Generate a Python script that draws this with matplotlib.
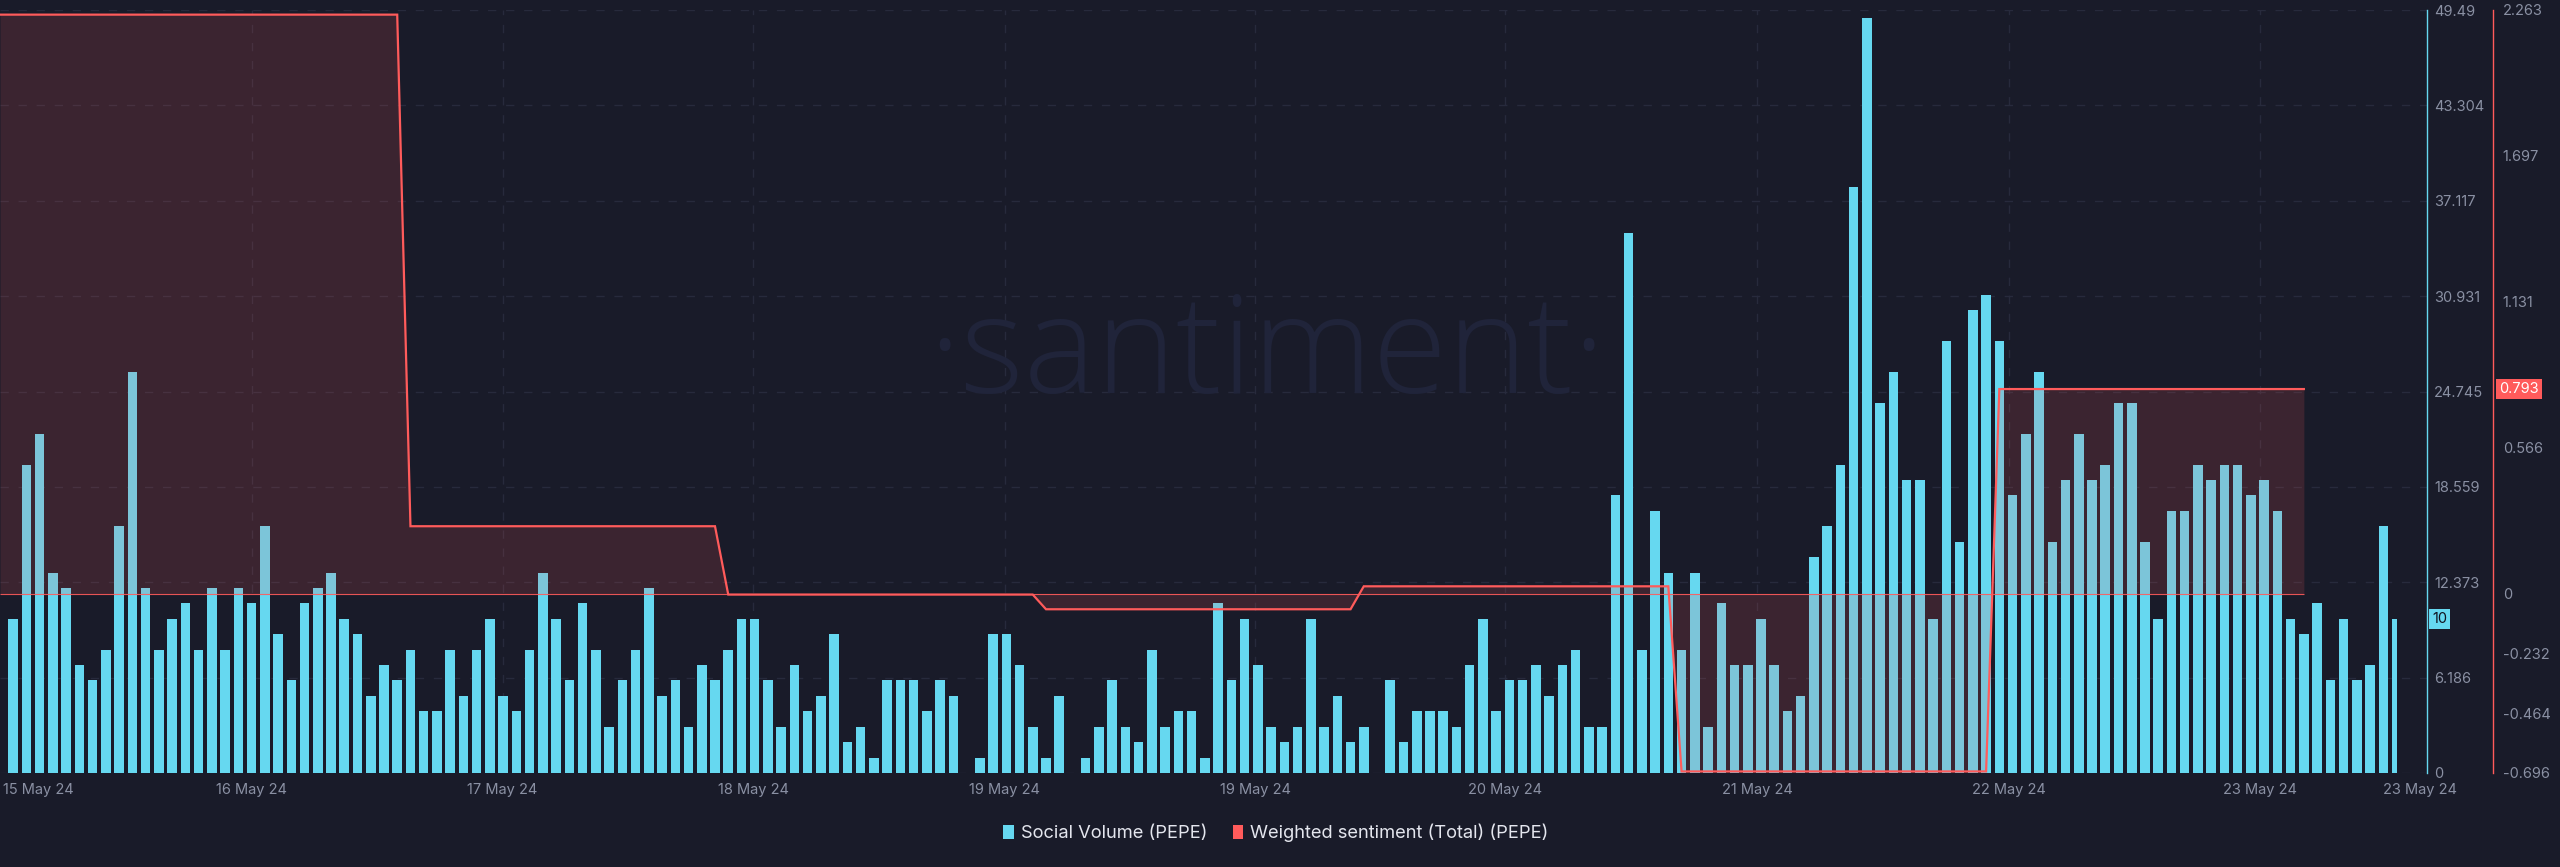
import numpy as np
import matplotlib
matplotlib.use("Agg")
import matplotlib.pyplot as plt
from matplotlib.patches import Patch

# ---------------- data ----------------
social_volume = [
    10, 20, 22, 13, 12, 7, 6, 8, 16, 26, 12, 8, 10, 11, 8, 12, 8, 12, 11, 16, 9, 6, 11, 12, 13, 10, 9, 5, 7, 6, 8,
    4, 4, 8, 5, 8, 10, 5, 4, 8, 13, 10, 6, 11, 8, 3, 6, 8, 12, 5, 6, 3, 7, 6, 8, 10, 10, 6, 3, 7, 4,
    5, 9, 2, 3, 1, 6, 6, 6, 4, 6, 5, 0, 1, 9, 9, 7, 3, 1, 5, 0, 1, 3, 6, 3, 2, 8, 3, 4, 4, 1,
    11, 6, 10, 7, 3, 2, 3, 10, 3, 5, 2, 3, 0, 6, 2, 4, 4, 4, 3, 7, 10, 4, 6, 6, 7, 5, 7, 8, 3, 3,
    18, 35, 8, 17, 13, 8, 13, 3, 11, 7, 7, 10, 7, 4, 5, 14, 16, 20, 38, 49, 24, 26, 19, 19, 10, 28, 15, 30, 31, 28,
    18, 22, 26, 15, 19, 22, 19, 20, 24, 24, 15, 10, 17, 17, 20, 19, 20, 20, 18, 19, 17, 10, 9, 11, 6, 10, 6, 7, 16, 10,
]
# daily weighted sentiment, repeated for each hour of the day (series starts one hour before first bar)
sentiment_levels = [2.245, 0.261, -0.004, -0.061, 0.028, -0.690, 0.793]
sentiment_hours = [31, 24, 24, 24, 24, 24, 24]
sentiment_start = -1

vol_ticks = [0, 6.186, 12.373, 18.559, 24.745, 30.931, 37.117, 43.304, 49.49]
vol_tick_labels = ["0", "6.186", "12.373", "18.559", "24.745", "30.931", "37.117", "43.304", "49.49"]
sent_ticks = [-0.696, -0.464, -0.232, 0, 0.566, 1.131, 1.697, 2.263]
sent_tick_labels = ["-0.696", "-0.464", "-0.232", "0", "0.566", "1.131", "1.697", "2.263"]

date_ticks = [18.0, 36.96, 55.9, 74.9, 93.8, 112.7, 131.7, 150.7, 169.7]
date_labels = ["16 May 24", "17 May 24", "18 May 24", "19 May 24", "19 May 24",
               "20 May 24", "21 May 24", "22 May 24", "23 May 24"]
edge_ticks = [1.87, 181.8]
edge_labels = ["15 May 24", "23 May 24"]

# ---------------- style ----------------
BG = "#191b29"
CYAN = "#66d8f0"
RED = "#ff5b5b"
GRID = "#272a3c"
TICK = "#8a90a3"
FONT = "Inter"

plt.rcParams["font.family"] = [FONT, "DejaVu Sans"]

fig = plt.figure(figsize=(25.6, 8.67), dpi=100, facecolor=BG)
plot_w_px = 2427
ax = fig.add_axes([0.0, 1 - 773 / 867, plot_w_px / 2560, (773 - 10) / 867])
ax.set_facecolor(BG)

n = len(social_volume)
x = np.arange(n)
bar_w = np.full(n, 0.72)
bar_w[-1] = 0.38
ax.bar(x - 0.36, social_volume, width=bar_w, align="edge", color=CYAN, zorder=2, linewidth=0)

ax.set_xlim(-1.0, 182.3)
ax.set_ylim(0, 49.49)

# watermark
ax.text(0.522, 0.545, "·santiment·", transform=ax.transAxes, ha="center", va="center",
        fontsize=98, color="#20243a", family=["Open Sans", "DejaVu Sans"], fontweight="light", zorder=1)

# sentiment axis
ax2 = ax.twinx()

# primary axes styling (after twinx, which moves ticks to the left)
for s in ["top", "left", "bottom"]:
    ax.spines[s].set_visible(False)
ax.spines["right"].set_visible(True)
ax.spines["right"].set_color(CYAN)
ax.spines["right"].set_linewidth(1.0)
ax.yaxis.tick_right()
ax.set_yticks(vol_ticks, vol_tick_labels)
ax.tick_params(axis="y", which="both", left=False, labelleft=False, right=True, labelright=True,
               length=0, pad=5, labelsize=10.5, labelcolor=TICK)
ax.set_xticks(date_ticks, date_labels)
ax.set_xticks(edge_ticks, edge_labels, minor=True)
ax.tick_params(axis="x", which="both", length=0, pad=7, labelsize=10.5, labelcolor=TICK)
ax.grid(True, which="major", color=GRID, linestyle=(0, (6, 7)), linewidth=1.0)
ax.set_axisbelow(True)

sent = np.repeat(sentiment_levels, sentiment_hours)
xs = np.arange(sentiment_start, sentiment_start + len(sent))
ax2.set_ylim(-0.696, 2.263)
ax2.fill_between(xs, sent, 0, color=RED, alpha=0.15, linewidth=0, zorder=3)
ax2.hlines(0, xs[0], xs[-1], color=RED, linewidth=0.8, alpha=0.9, zorder=3)
ax2.plot(xs, sent, color=RED, linewidth=1.6, zorder=4, solid_joinstyle="miter")
ax2.set_xlim(-1.0, 182.3)

for s in ["top", "left", "bottom"]:
    ax2.spines[s].set_visible(False)
red_pos = 1 + 66 / plot_w_px
ax2.spines["right"].set_position(("axes", red_pos))
ax2.spines["right"].set_color(RED)
ax2.spines["right"].set_linewidth(1.0)
ax2.set_yticks(sent_ticks, sent_tick_labels)
ax2.tick_params(axis="y", length=0, pad=7, labelsize=10.5, labelcolor=TICK)

# value badges
ax.annotate(str(social_volume[-1]), xy=(1, social_volume[-1]), xycoords=("axes fraction", "data"),
            xytext=(5, 0), textcoords="offset pixels", ha="left", va="center", fontsize=10.5,
            color="#111320", bbox=dict(boxstyle="square,pad=0.2", fc=CYAN, ec="none"), zorder=10,
            annotation_clip=False)
ax2.annotate(f"{sentiment_levels[-1]:.3f}", xy=(red_pos, sentiment_levels[-1]), xycoords=("axes fraction", "data"),
             xytext=(6, 0), textcoords="offset pixels", ha="left", va="center", fontsize=10.5,
             color="white", bbox=dict(boxstyle="square,pad=0.2", fc=RED, ec="none"), zorder=10,
             annotation_clip=False)

# legend
handles = [Patch(facecolor=CYAN, edgecolor="none", label="Social Volume (PEPE)"),
           Patch(facecolor=RED, edgecolor="none", label="Weighted sentiment (Total) (PEPE)")]
fig.legend(handles=handles, loc="center", bbox_to_anchor=(0.4985, 1 - 833 / 867), ncol=2, frameon=False,
           fontsize=13.2, labelcolor="#e4e6ee", handlelength=0.55, handleheight=0.75, handletextpad=0.4,
           columnspacing=1.4)

fig.savefig("out.png", dpi=100, facecolor=BG)
